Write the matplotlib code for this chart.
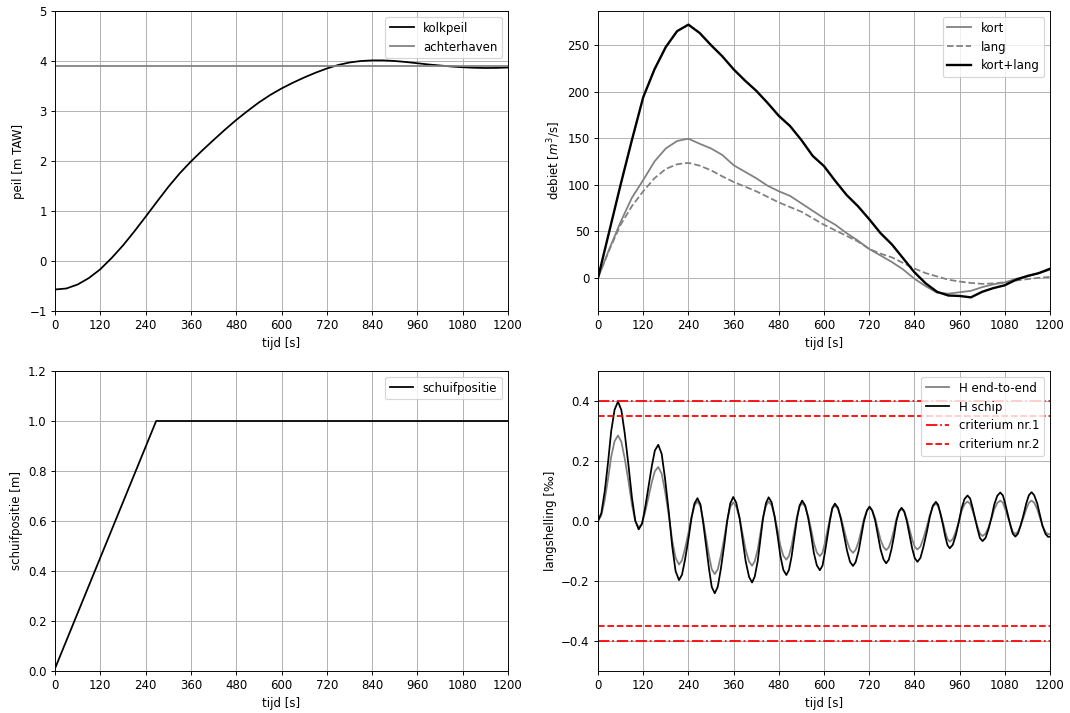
import numpy as np
import matplotlib
matplotlib.use('Agg')
import matplotlib.pyplot as plt

# tijdas voor peil / debiet
t = [0, 30, 60, 90, 120, 150, 180, 210, 240, 270, 300, 330, 360, 390, 420, 450, 480, 510, 540, 570,
     600, 630, 660, 690, 720, 750, 780, 810, 840, 870, 900, 930, 960, 990, 1020, 1050, 1080, 1110,
     1140, 1170, 1200]

kolkpeil = [-0.57, -0.55, -0.47, -0.34, -0.165, 0.06, 0.31, 0.59, 0.885, 1.185, 1.48, 1.75, 1.99, 2.21,
            2.42, 2.625, 2.82, 3.00, 3.17, 3.32, 3.45, 3.565, 3.67, 3.765, 3.85, 3.92, 3.97, 4.00, 4.012,
            4.012, 4.00, 3.98, 3.955, 3.93, 3.91, 3.89, 3.875, 3.865, 3.86, 3.862, 3.87]
achterhaven = 3.91

kort = [0, 31, 60, 86, 105, 125, 139, 147, 149.5, 144, 139, 132, 121, 114, 107, 99, 93, 88, 80, 72,
        64, 57, 48, 40, 31, 24, 17, 9, -1, -9, -16, -17, -15.5, -14, -10, -7, -5, -1, 1.5, 5, 8.7]
lang = [0, 30, 57, 77, 93, 107, 117, 122, 123.5, 120.5, 115.5, 109, 103, 98, 93, 87, 81, 76, 71, 64,
        57, 51, 45, 39, 31, 26, 22, 16, 10, 5, 1.5, -2, -4, -5.5, -6.5, -6, -4.7, -3, -1.4, 0, 1]
kort_lang = [0, 50, 100, 148, 194, 224, 248, 265, 272, 263, 250, 238, 224, 212, 201, 188, 174, 163,
             148, 131, 120, 104, 89, 77, 63, 48, 36, 21, 6, -6, -15, -19, -19.5, -21, -15, -11, -8,
             -2, 2, 5, 9.7]

# schuifpositie
t_schuif = [0, 268, 1200]
schuif = [0.01, 1.0, 1.0]

# langshelling
t_ls = [0,
        9, 18, 27, 35, 44, 53,
        62, 71, 81, 90, 99, 108,
        117, 125, 134, 143, 151, 160,
        169, 178, 188, 197, 206, 215,
        223, 231, 240, 248, 256, 264,
        272, 279, 287, 295, 302, 310,
        318, 326, 335, 343, 351, 359,
        367, 376, 384, 392, 401, 409,
        416, 424, 431, 438, 446, 453,
        461, 469, 477, 484, 492, 500,
        507, 514, 521, 528, 535, 542,
        550, 558, 566, 573, 581, 589,
        596, 602, 609, 616, 622, 629,
        637, 645, 653, 661, 669, 677,
        684, 692, 699, 706, 714, 721,
        728, 736, 743, 750, 758, 765,
        772, 779, 786, 792, 799, 806,
        813, 820, 827, 834, 841, 848,
        856, 864, 873, 881, 889, 897,
        903, 909, 916, 922, 928, 934,
        942, 950, 958, 965, 973, 981,
        988, 994, 1001, 1008, 1014, 1021,
        1029, 1037, 1045, 1052, 1060, 1068,
        1075, 1081, 1088, 1095, 1101, 1108,
        1115, 1122, 1130, 1137, 1144, 1151,
        1158, 1166, 1173, 1180, 1188, 1195,
        1200]
h_schip = [0.000,
           0.027, 0.100, 0.199, 0.299, 0.371, 0.398,
           0.370, 0.292, 0.185, 0.079, 0.001, -0.028,
           -0.009, 0.043, 0.113, 0.184, 0.235, 0.254,
           0.224, 0.141, 0.029, -0.084, -0.167, -0.197,
           -0.179, -0.129, -0.061, 0.008, 0.058, 0.076,
           0.055, -0.003, -0.083, -0.162, -0.220, -0.241,
           -0.219, -0.161, -0.081, 0.000, 0.058, 0.080,
           0.061, 0.009, -0.063, -0.134, -0.186, -0.205,
           -0.186, -0.134, -0.063, 0.008, 0.060, 0.079,
           0.062, 0.014, -0.051, -0.115, -0.163, -0.180,
           -0.163, -0.118, -0.056, 0.006, 0.051, 0.068,
           0.052, 0.010, -0.048, -0.106, -0.148, -0.164,
           -0.149, -0.108, -0.053, 0.003, 0.043, 0.058,
           0.044, 0.006, -0.046, -0.098, -0.136, -0.150,
           -0.137, -0.100, -0.051, -0.001, 0.035, 0.048,
           0.035, 0.001, -0.047, -0.094, -0.128, -0.141,
           -0.129, -0.095, -0.049, -0.002, 0.032, 0.044,
           0.032, -0.001, -0.046, -0.091, -0.124, -0.136,
           -0.123, -0.086, -0.036, 0.014, 0.051, 0.064,
           0.054, 0.025, -0.014, -0.052, -0.081, -0.091,
           -0.079, -0.047, -0.003, 0.041, 0.073, 0.085,
           0.075, 0.047, 0.009, -0.029, -0.057, -0.067,
           -0.056, -0.026, 0.014, 0.055, 0.084, 0.095,
           0.085, 0.058, 0.022, -0.015, -0.042, -0.052,
           -0.042, -0.015, 0.022, 0.059, 0.086, 0.096,
           0.086, 0.059, 0.022, -0.016, -0.043, -0.053,
           -0.052]
h_end = [0.000,
         0.019, 0.071, 0.143, 0.214, 0.266, 0.285,
         0.264, 0.208, 0.132, 0.055, -0.001, -0.022,
         -0.008, 0.029, 0.079, 0.130, 0.166, 0.180,
         0.158, 0.099, 0.018, -0.064, -0.123, -0.145,
         -0.131, -0.092, -0.040, 0.013, 0.051, 0.065,
         0.049, 0.004, -0.056, -0.117, -0.161, -0.177,
         -0.161, -0.117, -0.058, 0.002, 0.046, 0.062,
         0.048, 0.009, -0.044, -0.096, -0.135, -0.149,
         -0.135, -0.095, -0.042, 0.012, 0.051, 0.065,
         0.052, 0.016, -0.032, -0.081, -0.116, -0.129,
         -0.116, -0.082, -0.035, 0.013, 0.047, 0.060,
         0.048, 0.016, -0.029, -0.073, -0.105, -0.117,
         -0.106, -0.075, -0.033, 0.010, 0.041, 0.052,
         0.041, 0.012, -0.027, -0.067, -0.095, -0.106,
         -0.096, -0.068, -0.031, 0.007, 0.035, 0.045,
         0.035, 0.009, -0.026, -0.062, -0.087, -0.097,
         -0.088, -0.063, -0.029, 0.006, 0.031, 0.040,
         0.031, 0.006, -0.028, -0.061, -0.086, -0.095,
         -0.085, -0.057, -0.019, 0.020, 0.048, 0.058,
         0.049, 0.026, -0.006, -0.037, -0.060, -0.069,
         -0.060, -0.035, -0.002, 0.032, 0.056, 0.065,
         0.057, 0.036, 0.008, -0.021, -0.042, -0.050,
         -0.042, -0.020, 0.009, 0.039, 0.060, 0.068,
         0.061, 0.040, 0.013, -0.015, -0.036, -0.043,
         -0.036, -0.015, 0.013, 0.040, 0.061, 0.068,
         0.061, 0.040, 0.012, -0.016, -0.037, -0.044,
         -0.043]
crit1 = 0.4
crit2 = 0.35

xticks = np.arange(0, 1201, 120)

fig = plt.figure(figsize=(1070 / 85, 713 / 85), dpi=85)
W, H = 1070, 713
def box(x0, x1, y0, y1):
    return [x0 / W, 1 - y1 / H, (x1 - x0) / W, (y1 - y0) / H]

ax1 = fig.add_axes(box(55, 508, 11, 311))
ax2 = fig.add_axes(box(598, 1050, 11, 311))
ax3 = fig.add_axes(box(55, 508, 371, 671))
ax4 = fig.add_axes(box(598, 1050, 371, 671))

# peil
ax1.plot(t, kolkpeil, color='k', label='kolkpeil')
ax1.axhline(achterhaven, color='grey', label='achterhaven')
ax1.set_ylim(-1, 5)
ax1.set_ylabel('peil [m TAW]')

# debiet
ax2.plot(t, kort, color='grey', label='kort')
ax2.plot(t, lang, color='grey', linestyle='--', label='lang')
ax2.plot(t, kort_lang, color='k', lw=2, label='kort+lang')
ax2.set_ylabel(r'debiet [$m^3$/s]')

# schuif
ax3.plot(t_schuif, schuif, color='k', label='schuifpositie')
ax3.set_ylim(0, 1.2)
ax3.set_ylabel('schuifpositie [m]')

# langshelling
ax4.plot(t_ls, h_end, color='grey', label='H end-to-end')
ax4.plot(t_ls, h_schip, color='k', label='H schip')
ax4.axhline(crit1, color='r', linestyle='-.', label='criterium nr.1')
ax4.axhline(crit2, color='r', linestyle='--', label='criterium nr.2')
ax4.axhline(-crit2, color='r', linestyle='--')
ax4.axhline(-crit1, color='r', linestyle='-.')
ax4.set_ylim(-0.5, 0.5)
ax4.set_ylabel('langshelling [‰]')

for ax in [ax1, ax2, ax3, ax4]:
    ax.set_xlim(0, 1200)
    ax.set_xticks(xticks)
    ax.set_xlabel('tijd [s]')
    ax.grid(True)
    ax.legend(loc='upper right')

plt.savefig('out.png', dpi=85)
